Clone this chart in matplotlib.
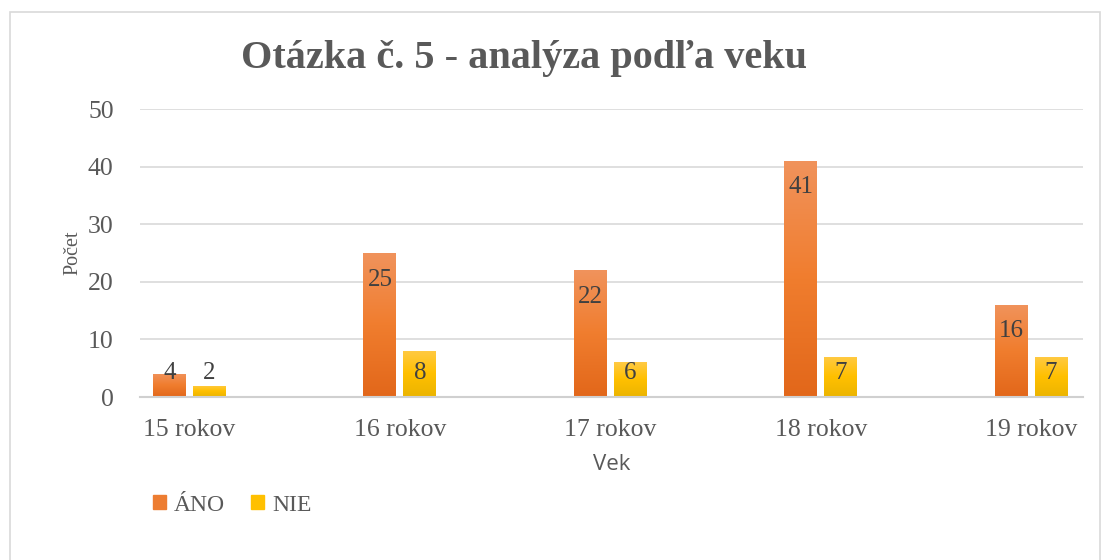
import numpy as np
import matplotlib
matplotlib.use("Agg")
import matplotlib.pyplot as plt
from matplotlib.colors import LinearSegmentedColormap
from matplotlib.patches import Rectangle

# ---------------- DATA ----------------

categories = ["15 rokov", "16 rokov", "17 rokov", "18 rokov", "19 rokov"]
ano = [4, 25, 22, 41, 16]
nie = [2, 8, 6, 7, 7]

series_names = ["ÁNO", "NIE"]

# ---------------- FIGURE ----------------

plt.rcParams["font.family"] = ["Liberation Serif", "DejaVu Serif"]

fig = plt.figure(figsize=(11.07, 5.6), dpi=100)
ax = fig.add_axes([0.1265, 0.291, 0.8515, 0.514])

# outer chart border
fig.patches.append(Rectangle((10 / 1107, -0.05), 1090 / 1107, 1 - 12 / 560 + 0.05,
                             transform=fig.transFigure, fill=False,
                             edgecolor="#d9d9d9", linewidth=1.2))

x = np.arange(len(categories))
width = 0.156
offset = 0.095

bars_ano = ax.bar(x - offset, ano, width, color="#ED7D31", zorder=2)
bars_nie = ax.bar(x + offset, nie, width, color="#FFC000", zorder=2)

# gradient fill like the office chart
cmap_ano = LinearSegmentedColormap.from_list("ano", ["#E2671A", "#F07D2E", "#F1935C"])
cmap_nie = LinearSegmentedColormap.from_list("nie", ["#EBB400", "#FFC000", "#FFCA45"])
grad = np.linspace(0, 1, 256).reshape(-1, 1)

for bars, cmap in [(bars_ano, cmap_ano), (bars_nie, cmap_nie)]:
    for b in bars:
        img = ax.imshow(grad, cmap=cmap, origin="lower", aspect="auto",
                        extent=[b.get_x(), b.get_x() + b.get_width(), 0, b.get_height()],
                        zorder=2.5)
        img.set_clip_path(b)

# data labels
for bars in [bars_ano, bars_nie]:
    for b in bars:
        v = b.get_height()
        ax.text(b.get_x() + b.get_width() / 2, max(v - 4.6, 4.2), str(int(v)),
                ha="center", va="center", fontsize=18, color="#404040", zorder=4)

ax.set_xlim(-0.235, len(categories) - 1 + 0.245)
ax.set_ylim(0, 50)
ax.set_yticks([0, 10, 20, 30, 40, 50])
ax.set_xticks(x)
ax.set_xticklabels(categories)

ax.tick_params(axis="both", length=0, labelsize=18.5, labelcolor="#595959")
ax.tick_params(axis="y", pad=19)
ax.tick_params(axis="x", pad=16)

ax.grid(axis="y", color="#d9d9d9", linewidth=1.2, zorder=0)
ax.set_axisbelow(True)
for s in ["top", "right", "left"]:
    ax.spines[s].set_visible(False)
ax.spines["bottom"].set_color("#d0d0d0")
ax.spines["bottom"].set_linewidth(1.5)

ax.set_ylabel("Počet", fontsize=14.5, color="#595959", labelpad=4)
ax.set_xlabel("Vek", fontsize=16, color="#595959", family=["Open Sans", "DejaVu Sans"],
              labelpad=9)

fig.text(0.473, 0.896, "Otázka č. 5 - analýza podľa veku", ha="center", va="center",
         fontsize=29, fontweight="bold", color="#595959")

# legend
handles = [Rectangle((0, 0), 1, 1, color="#ED7D31"), Rectangle((0, 0), 1, 1, color="#FFC000")]
fig.legend(handles, series_names, loc="center left", bbox_to_anchor=(0.119, 0.098),
           ncol=2, frameon=False, fontsize=17, labelcolor="#595959",
           handlelength=0.55, handleheight=0.55, handletextpad=0.35, columnspacing=1.1)

plt.savefig("out.png", dpi=100)
